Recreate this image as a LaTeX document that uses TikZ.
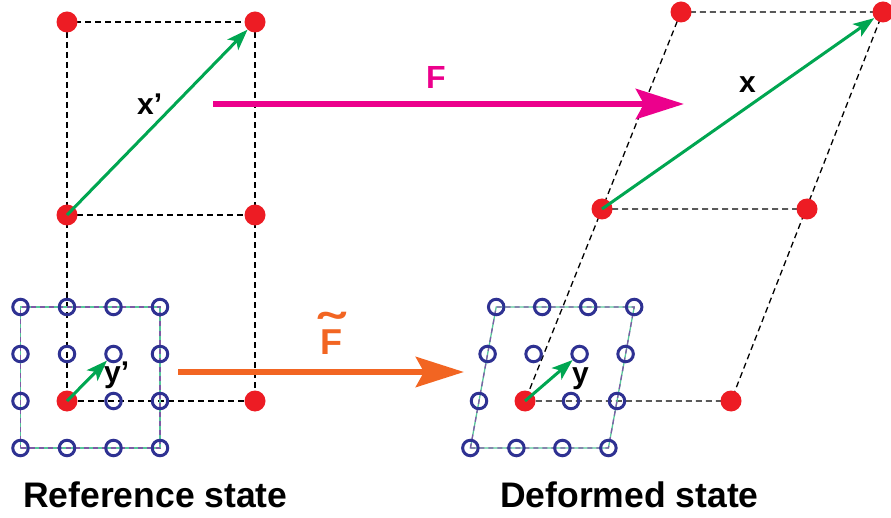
\documentclass[tikz,border=0pt]{standalone}
\usepackage{fontspec}
\setmainfont{Liberation Sans}
\usetikzlibrary{arrows.meta}
\definecolor{dotred}{HTML}{ED1C24}
\definecolor{atomblue}{HTML}{2E3192}
\definecolor{vecgreen}{HTML}{00A651}
\definecolor{mapmagenta}{HTML}{EC008C}
\definecolor{maporange}{HTML}{F26522}
\definecolor{boxgreen}{HTML}{57C79A}
\definecolor{boxpurple}{HTML}{7D5BA6}

\begin{document}
\begin{tikzpicture}[x=1pt,y=-1pt,
    reddot/.style={circle,fill=dotred,inner sep=0pt,minimum size=21pt},
    atom/.style={circle,draw=atomblue,line width=3pt,inner sep=0pt,minimum size=15.5pt},
    cell/.style={black,line width=1.3pt,dash pattern=on 6pt off 4pt},
    boxsolid/.style={boxgreen,line width=1.3pt},
    boxdash/.style={boxpurple,line width=1.3pt,dash pattern=on 5pt off 4pt},
    vec/.style={vecgreen,line width=3pt,-{Stealth[length=21pt,width=15pt,inset=5pt]}},
    maparrow/.style={line width=6.5pt,-{Stealth[length=48pt,width=30pt,inset=8pt]}},
    lbl/.style={font=\fontsize{30}{34}\selectfont\bfseries,inner sep=0pt,anchor=base west},
    title/.style={font=\fontsize{35.5}{42}\selectfont\bfseries,inner sep=0pt,anchor=base west}]

\useasboundingbox (0,0) rectangle (891,518);

\pgfmathsetmacro\refstep{46.5}
\pgfmathsetmacro\defstep{46}
\pgfmathsetmacro\defshear{8.6}
\pgfmathsetmacro\rowstep{47}

\coordinate (p00) at (67,401);
\coordinate (p10) at (255,401);
\coordinate (p01) at (67,215);
\coordinate (p11) at (255,215);
\coordinate (p02) at (67,22);
\coordinate (p12) at (255,22);
\coordinate (q00) at (525,401);
\coordinate (q10) at (731,401);
\coordinate (q01) at (602,209);
\coordinate (q11) at (807,209);
\coordinate (q02) at (681,12);
\coordinate (q12) at (883,12);

\foreach \c in {p,q}
    \draw[cell] (\c02) -- (\c00) -- (\c10) -- (\c12) -- cycle (\c01) -- (\c11);

\foreach \i in {0,...,3}
    \foreach \j in {0,...,3} {
        \coordinate (a\i\j) at ({67+\refstep*(\i-1)},{401-\rowstep*(\j-1)});
        \coordinate (b\i\j) at ({525+\defstep*(\i-1)+\defshear*(\j-1)},{401-\rowstep*(\j-1)});
    }

\foreach \c in {a,b} {
    \draw[boxsolid] (\c00) -- (\c30) -- (\c33) -- (\c03) -- cycle;
    \draw[boxdash] (\c00) -- (\c30) -- (\c33) -- (\c03) -- cycle;
}

\foreach \i in {0,...,3}
    \foreach \j in {0,...,3} {
        \ifnum\i\j=11 \else
            \node[atom] (a\i\j n) at (a\i\j) {};
            \node[atom] (b\i\j n) at (b\i\j) {};
        \fi
    }

\foreach \p in {p00,p10,p01,p11,p02,p12,q00,q10,q01,q11,q02,q12}
    \node[reddot] (\p d) at (\p) {};

\draw[vec] (p01) -- (p12d);
\draw[vec] (q01) -- (q12d);
\draw[vec] (p00) -- (a22n);
\draw[vec] (q00) -- (b22n);

\coordinate (Fstart) at (213,104);
\coordinate (Fend) at (684,104);
\coordinate (Gstart) at (178,372);
\coordinate (Gend) at (464,372);
\draw[maparrow,mapmagenta] (Fstart) -- (Fend);
\draw[maparrow,maporange] (Gstart) -- (Gend);

\node[lbl,text=mapmagenta,font=\fontsize{32}{38}\selectfont\bfseries] (Flab) at (426,89) {F};
\node[lbl,text=maporange,font=\fontsize{36}{40}\selectfont\bfseries] (Glab) at (320,355)
    {\ooalign{F\cr\hidewidth\raisebox{6pt}{\scalebox{2.1}[1.4]{\char"02DC}}\hidewidth\cr}};
\node[lbl] (xplab) at (137,115) {x’};
\node[lbl] (xlab) at (739,93) {x};
\node[lbl] (yplab) at (104,382) {y’};
\node[lbl] (ylab) at (572,383) {y};

\node[title] (reflab) at (23,507) {Reference state};
\node[title] (deflab) at (500,507) {Deformed state};

\end{tikzpicture}
\end{document}
